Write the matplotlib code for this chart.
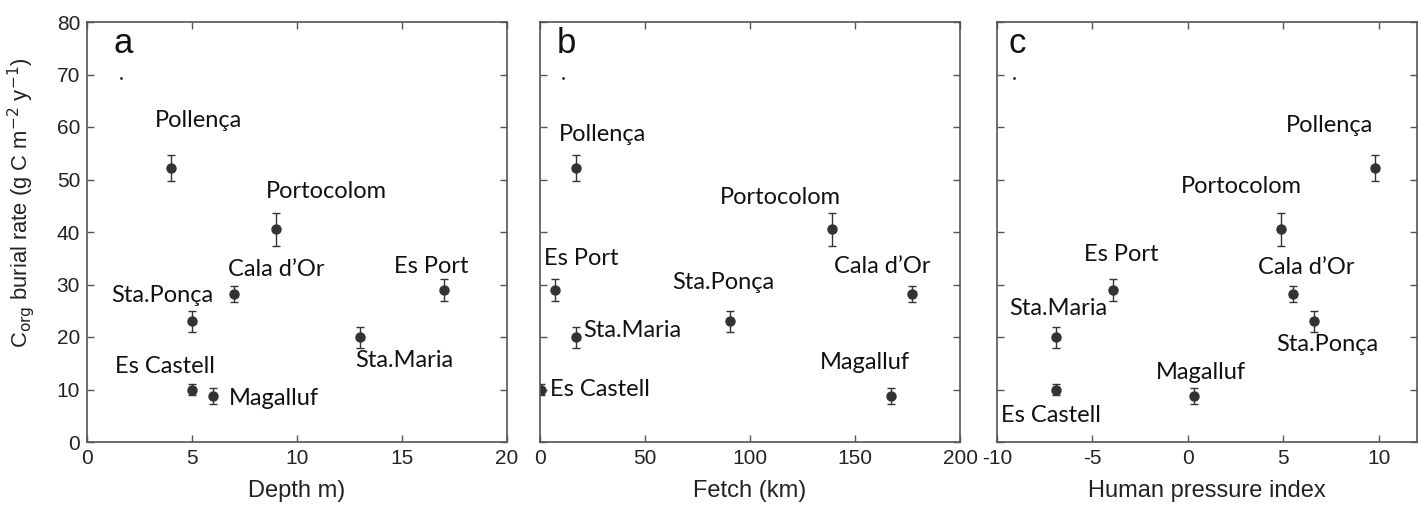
import matplotlib
matplotlib.use("Agg")
import matplotlib.pyplot as plt

plt.rcParams["axes.unicode_minus"] = False

sites = ["Pollença", "Portocolom", "Cala d’Or", "Es Port", "Sta.Ponça", "Sta.Maria", "Es Castell", "Magalluf"]
burial = [52.2, 40.5, 28.2, 28.9, 23.0, 20.0, 10.0, 8.7]
burial_err = [2.4, 3.2, 1.6, 2.1, 2.0, 2.0, 1.1, 1.5]
depth = [4, 9, 7, 17, 5, 13, 5, 6]
fetch = [17, 139, 177, 7, 90.5, 17, 0.5, 167]
hpi = [9.8, 4.9, 5.5, -3.9, 6.6, -6.9, -6.9, 0.3]

# label positions (data coords) for each panel
lab_a = [(5.3, 61.3), (11.4, 47.8), (9.0, 32.9), (16.4, 33.4), (3.6, 28.0), (15.1, 15.6), (3.7, 14.3), (8.9, 8.3)]
lab_b = [(29.6, 58.6), (114.6, 46.5), (162.8, 33.5), (19.6, 34.9), (87.3, 30.3), (43.9, 21.3), (28.6, 10.0), (154.7, 15.1)]
lab_c = [(7.4, 60.2), (2.8, 48.6), (6.2, 33.2), (-3.5, 35.8), (7.3, 18.6), (-6.8, 25.5), (-7.2, 5.1), (0.7, 13.3)]

panels = [
    dict(x=depth, labels=lab_a, xlim=(0, 20), xticks=[0, 5, 10, 15, 20], xlabel="Depth m)", letter="a", lx=0.086, dot=(1.6, 69.3)),
    dict(x=fetch, labels=lab_b, xlim=(0, 200), xticks=[0, 50, 100, 150, 200], xlabel="Fetch (km)", letter="b", lx=0.064, dot=(11, 69.3)),
    dict(x=hpi, labels=lab_c, xlim=(-10, 12), xticks=[-10, -5, 0, 5, 10], xlabel="Human pressure index", letter="c", lx=0.049, dot=(-9.1, 69.3)),
]

fig = plt.figure(figsize=(14.19, 5.09), dpi=100)
W, H = 1419, 509
lefts = [87, 540, 997]
width = 420
top, bottom = 22, 442
framecol = "#555555"
ptcol = "#333333"

for i, p in enumerate(panels):
    ax = fig.add_axes([lefts[i] / W, 1 - bottom / H, width / W, (bottom - top) / H])
    ax.errorbar(p["x"], burial, yerr=burial_err, fmt="o", color=ptcol, ms=6.5,
                ecolor=ptcol, elinewidth=1, capsize=3, capthick=1)
    ax.plot([p["dot"][0]], [p["dot"][1]], ".", color="#222222", ms=2)
    for name, (lx, ly) in zip(sites, p["labels"]):
        ax.text(lx, ly, name, ha="center", va="center", fontsize=17,
                family="Lato", color="#111111")
    ax.text(p["lx"], 0.926, p["letter"], transform=ax.transAxes, fontsize=25,
            family="Liberation Sans", ha="center", va="baseline", color="#111111")
    ax.set_xlim(*p["xlim"])
    ax.set_ylim(0, 80)
    ax.set_xticks(p["xticks"])
    ax.set_yticks(range(0, 81, 10))
    ax.tick_params(direction="in", top=True, right=True, length=5, width=1,
                   color=framecol, labelsize=15, pad=5)
    for lab in ax.get_xticklabels() + ax.get_yticklabels():
        lab.set_family("Liberation Sans")
        lab.set_color("#222222")
    for s in ax.spines.values():
        s.set_color(framecol)
        s.set_linewidth(1.2)
    if i > 0:
        ax.set_yticklabels([])
    else:
        ax.set_ylabel(r"C$_{\rm org}$ burial rate (g C m$^{-2}$ y$^{-1}$)", fontsize=15.8,
                      family="Liberation Sans", color="#222222")
        ax.yaxis.set_label_coords(-0.12, 0.57)
    ax.set_xlabel(p["xlabel"], fontsize=17, family="Liberation Sans", labelpad=9, color="#222222")

fig.savefig("out.png", dpi=100)
